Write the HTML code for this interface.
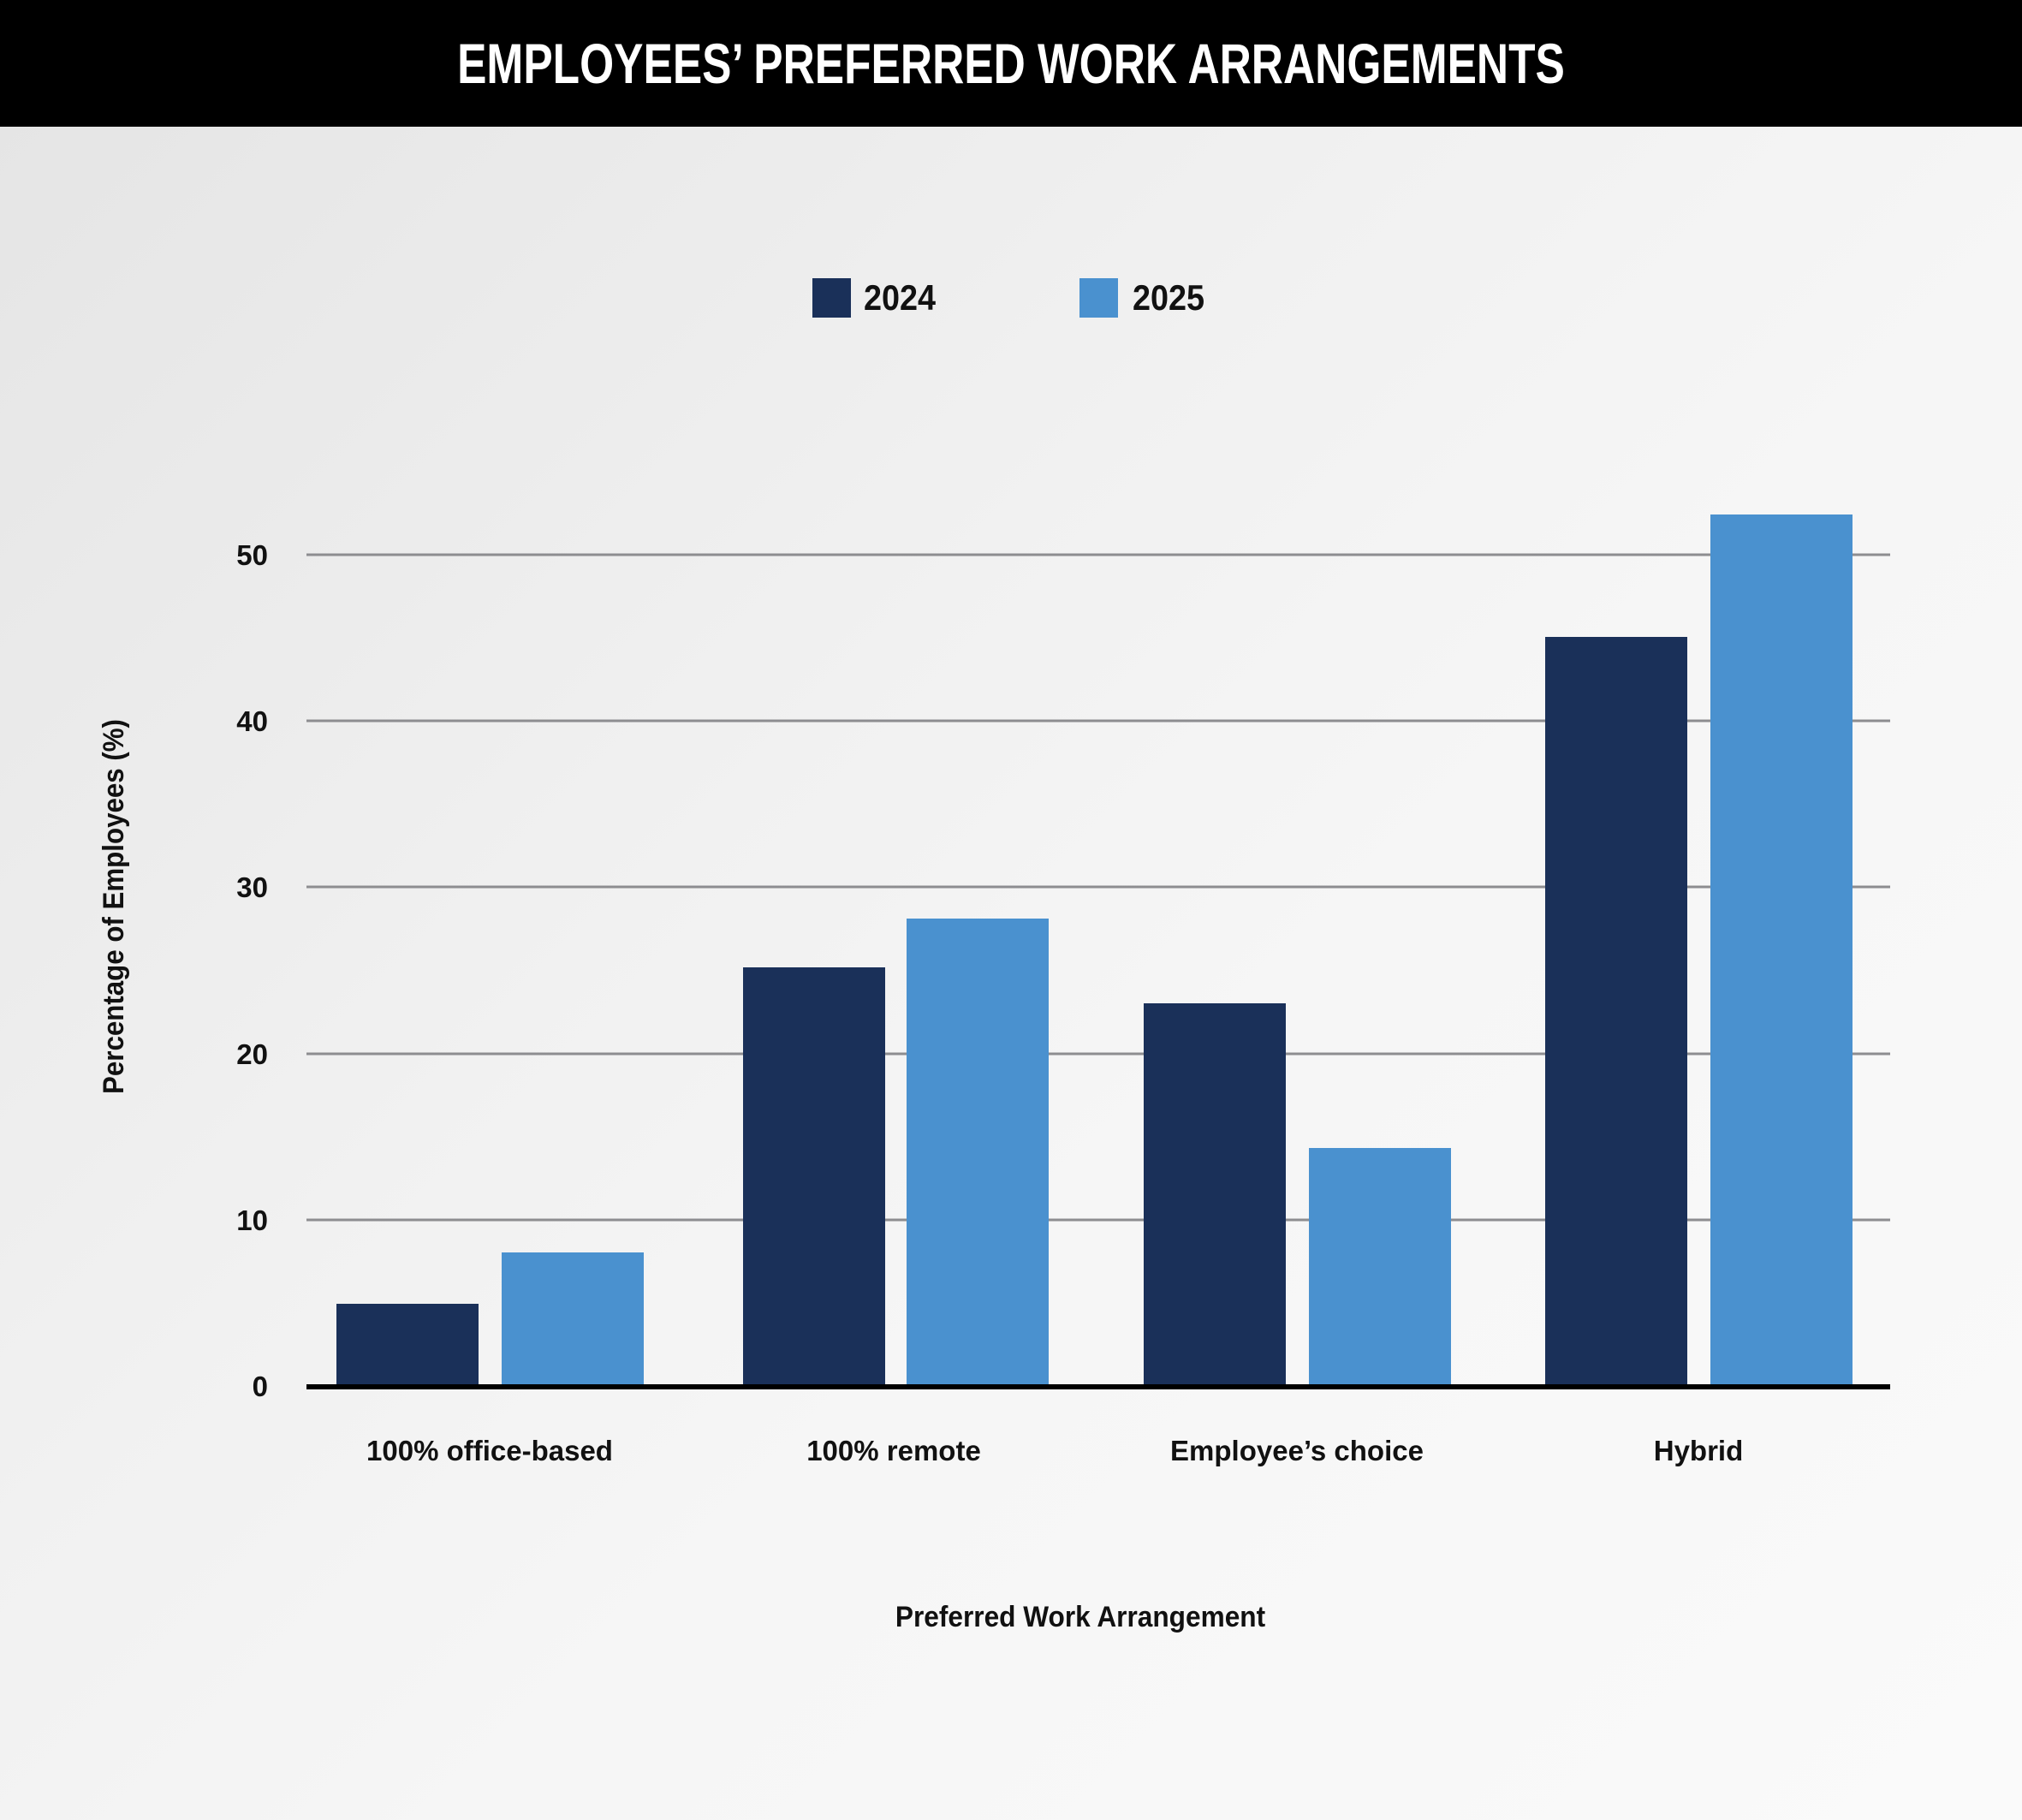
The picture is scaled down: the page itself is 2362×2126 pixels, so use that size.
<!DOCTYPE html>
<html><head><meta charset="utf-8"><style>
html,body{margin:0;padding:0}
body{width:2362px;height:2126px;position:relative;overflow:hidden;background:linear-gradient(135deg,#e4e4e4 0%,#f1f1f1 40%,#f6f6f6 60%,#fafafa 100%);font-family:"Liberation Sans",sans-serif}
.t{position:absolute;white-space:nowrap}
</style></head><body>
<div style="position:absolute;left:0;top:0;width:2362px;height:148px;background:#000"></div>
<div class="t" style="left:0;width:2362px;top:38px;text-align:center;color:#fff;font-weight:bold;font-size:66px;line-height:72px;transform:scaleX(0.78);transform-origin:1181px 0">EMPLOYEES’ PREFERRED WORK ARRANGEMENTS</div>
<svg width="2362" height="2126" style="position:absolute;left:0;top:0">
<g stroke="#8d8d90" stroke-width="3">
<line x1="358" x2="2208" y1="648" y2="648"/><line x1="358" x2="2208" y1="842" y2="842"/>
<line x1="358" x2="2208" y1="1036" y2="1036"/><line x1="358" x2="2208" y1="1231" y2="1231"/>
<line x1="358" x2="2208" y1="1425" y2="1425"/></g>
<g fill="#1a3059">
<rect x="393" y="1523" width="166" height="96"/><rect x="868" y="1130" width="166" height="489"/>
<rect x="1336" y="1172" width="166" height="447"/><rect x="1805" y="744" width="166" height="875"/></g>
<g fill="#4a91cf">
<rect x="586" y="1463" width="166" height="156"/><rect x="1059" y="1073" width="166" height="546"/>
<rect x="1529" y="1341" width="166" height="278"/><rect x="1998" y="601" width="166" height="1018"/></g>
<line x1="358" x2="2208" y1="1620" y2="1620" stroke="#000" stroke-width="6"/>
<rect x="949" y="325" width="45" height="46" fill="#1a3059"/><rect x="1261" y="325" width="45" height="46" fill="#4a91cf"/>
<g font-family="Liberation Sans, sans-serif" font-weight="bold" font-size="42" fill="#111">
<text transform="translate(1009,362) scale(0.9,1)">2024</text><text transform="translate(1323,362) scale(0.9,1)">2025</text></g>
<g font-family="Liberation Sans, sans-serif" font-weight="bold" font-size="33" fill="#111" text-anchor="end">
<text x="313" y="660">50</text><text x="313" y="854">40</text><text x="313" y="1048">30</text>
<text x="313" y="1243">20</text><text x="313" y="1437">10</text><text x="313" y="1631">0</text></g>
<g font-family="Liberation Sans, sans-serif" font-weight="bold" font-size="33" fill="#111" text-anchor="middle">
<text x="572" y="1706">100% office-based</text><text x="1044" y="1706">100% remote</text>
<text x="1515" y="1706">Employee’s choice</text><text x="1984" y="1706">Hybrid</text></g>
<g font-family="Liberation Sans, sans-serif" font-weight="bold" font-size="34" fill="#111" text-anchor="middle">
<text transform="translate(1262,1900) scale(0.93,1)">Preferred Work Arrangement</text>
<text transform="translate(144,1059) rotate(-90) scale(0.92,1)">Percentage of Employees (%)</text></g>
</svg>
</body></html>
